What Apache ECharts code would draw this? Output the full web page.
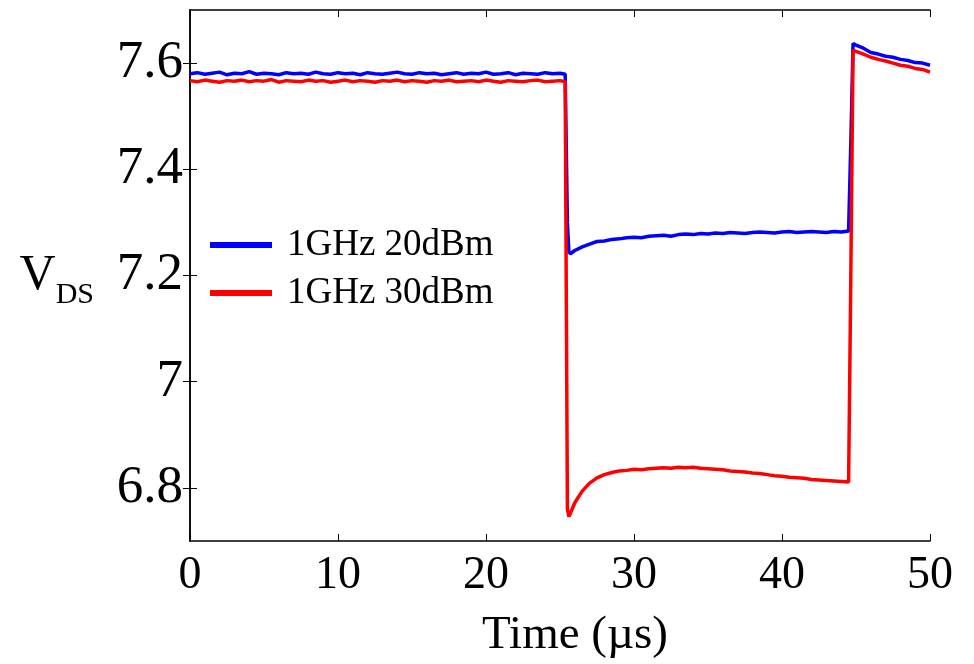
<!DOCTYPE html>
<html>
<head>
<meta charset="utf-8">
<script src="https://cdn.jsdelivr.net/npm/echarts@6/dist/echarts.min.js"></script>
<style>html,body{margin:0;padding:0;background:#fff}#c{width:974px;height:664px}</style>
</head>
<body>
<div id="c"></div>
<script>
// Time axis (µs)
var times = [0,0.5,1,1.5,2,2.5,3,3.5,4,4.5,5,5.5,6,6.5,7,7.5,8,8.5,9,9.5,10,10.5,11,11.5,12,12.5,13,13.5,14,14.5,15,15.5,16,16.5,17,17.5,18,18.5,19,19.5,20,20.5,21,21.5,22,22.5,23,23.5,24,24.5,25,25.35,25.5,25.6,25.7,26,26.5,27,27.5,28,28.5,29,29.5,30,30.5,31,31.5,32,32.5,33,33.5,34,34.5,35,35.5,36,36.5,37,37.5,38,38.5,39,39.5,40,40.5,41,41.5,42,42.5,43,43.5,44,44.5,44.65,44.8,45,45.5,46,46.5,47,47.5,48,48.5,49,49.5,50];
// 1GHz 20dBm
var blue = [7.580,7.582,7.579,7.581,7.583,7.578,7.581,7.580,7.584,7.579,7.581,7.580,7.578,7.582,7.580,7.581,7.579,7.583,7.580,7.579,7.582,7.580,7.581,7.578,7.582,7.580,7.579,7.581,7.583,7.580,7.579,7.582,7.580,7.581,7.578,7.580,7.582,7.579,7.581,7.580,7.583,7.579,7.580,7.582,7.578,7.581,7.580,7.579,7.582,7.580,7.581,7.579,7.300,7.245,7.241,7.247,7.254,7.259,7.264,7.265,7.268,7.269,7.271,7.272,7.271,7.274,7.275,7.276,7.274,7.277,7.278,7.277,7.279,7.278,7.280,7.279,7.281,7.280,7.279,7.281,7.282,7.281,7.280,7.282,7.283,7.281,7.282,7.283,7.282,7.281,7.283,7.282,7.284,7.450,7.637,7.634,7.628,7.620,7.617,7.613,7.611,7.607,7.605,7.601,7.600,7.596];
// 1GHz 30dBm
var red = [7.567,7.565,7.568,7.566,7.564,7.567,7.566,7.568,7.565,7.567,7.566,7.569,7.564,7.567,7.566,7.565,7.568,7.566,7.567,7.564,7.566,7.568,7.565,7.567,7.566,7.564,7.567,7.566,7.568,7.565,7.567,7.566,7.564,7.567,7.566,7.568,7.565,7.566,7.567,7.565,7.568,7.566,7.564,7.567,7.566,7.565,7.567,7.568,7.565,7.566,7.567,7.565,6.760,6.746,6.752,6.772,6.794,6.809,6.819,6.825,6.829,6.832,6.833,6.835,6.834,6.836,6.837,6.838,6.837,6.839,6.838,6.839,6.837,6.836,6.835,6.834,6.832,6.831,6.830,6.828,6.827,6.825,6.823,6.822,6.820,6.819,6.818,6.816,6.815,6.814,6.813,6.812,6.811,7.200,7.624,7.622,7.617,7.611,7.607,7.604,7.600,7.596,7.594,7.590,7.588,7.583];
var seriesNames = ['1GHz 20dBm','1GHz 30dBm'];
var yTicks = [6.8,7,7.2,7.4,7.6];
var xTicks = [0,10,20,30,40,50];

function pairs(v){ return times.map(function(t,i){ return [t, v[i]]; }); }

var font = 'Liberation Serif';
var chart = echarts.init(document.getElementById('c'), null, {renderer:'canvas'});
var axLine = {show:true, lineStyle:{color:'#000', width:1.5}};
var tick = {show:true, inside:true, length:7, lineStyle:{color:'#000', width:1}};
chart.setOption({
  animation:false,
  backgroundColor:'#fff',
  grid:{left:190, right:44, top:10, bottom:122},
  legend:{
    orient:'vertical', left:205, top:220, itemWidth:62, itemHeight:6, itemGap:8,
    icon:'rect',
    data:seriesNames,
    textStyle:{fontFamily:font, fontSize:37, color:'#000', lineHeight:40, padding:[0,0,0,10]}
  },
  xAxis:[
    {type:'value', min:0, max:50, interval:10, position:'bottom',
     axisLine:axLine, axisTick:tick, splitLine:{show:false},
     axisLabel:{fontFamily:font, fontSize:46, color:'#000', margin:12},
     name:'Time (µs)', nameLocation:'middle', nameGap:71,
     nameTextStyle:{fontFamily:font, fontSize:47, color:'#000', padding:[0,0,0,30]}},
    {type:'value', min:0, max:50, interval:10, position:'top',
     axisLine:axLine, axisTick:tick, splitLine:{show:false}, axisLabel:{show:false}}
  ],
  yAxis:[
    {type:'value', min:6.7, max:7.7, position:'left',
     axisLine:axLine,
     axisTick:{show:true, inside:true, length:7, lineStyle:{color:'#000', width:1}, customValues:yTicks},
     splitLine:{show:false},
     axisLabel:{fontFamily:font, fontSize:53, color:'#000', margin:7, customValues:yTicks,
       formatter:function(v){ return String(+v.toFixed(1)); }},
     name:'{v|V}{s|DS}', nameLocation:'middle', nameRotate:0, nameGap:96,
     nameTextStyle:{align:'right', rich:{
       v:{fontFamily:font, fontSize:50, color:'#000', verticalAlign:'bottom'},
       s:{fontFamily:font, fontSize:30, color:'#000', verticalAlign:'bottom', padding:[0,0,-10,0]}}}},
    {type:'value', min:6.7, max:7.7, position:'right',
     axisLine:axLine,
     axisTick:{show:true, inside:true, length:7, lineStyle:{color:'#000', width:1}, customValues:yTicks},
     splitLine:{show:false}, axisLabel:{show:false}}
  ],
  series:[
    {name:seriesNames[0], type:'line', data:pairs(blue), showSymbol:false, xAxisIndex:0, yAxisIndex:0,
     itemStyle:{color:'#0000ff'}, lineStyle:{color:'#0000ff', width:3.5}},
    {name:seriesNames[1], type:'line', data:pairs(red), showSymbol:false, xAxisIndex:0, yAxisIndex:0,
     itemStyle:{color:'#ff0000'}, lineStyle:{color:'#ff0000', width:3.5}}
  ]
});
</script>
</body>
</html>
